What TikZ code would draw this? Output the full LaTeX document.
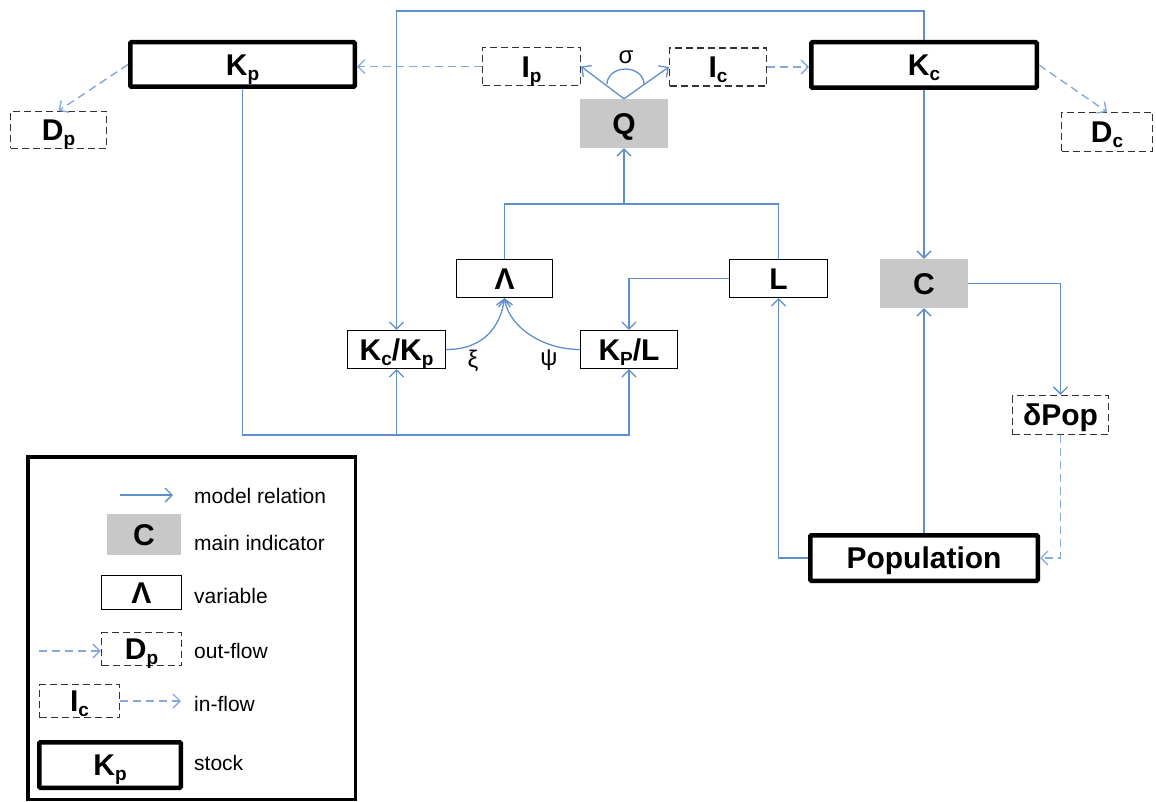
\documentclass[tikz,border=0pt]{standalone}
\usepackage{fontspec}
\setmainfont{Liberation Sans}
\usetikzlibrary{arrows.meta}
\definecolor{relblue}{RGB}{95,142,205}
\definecolor{flowblue}{RGB}{135,168,218}
\definecolor{indgray}{RGB}{200,200,200}
\definecolor{dashgray}{RGB}{50,50,50}
\newcommand\lab{\fontsize{30}{34}\selectfont\bfseries}
\newcommand\sbs[1]{\raisebox{-5pt}[0pt][0pt]{\fontsize{19}{19}\selectfont #1}}
\begin{document}
\begin{tikzpicture}[x=1pt,y=-1pt,
  base/.style={inner sep=0pt, align=center, font=\lab, text height=21.5pt, text depth=0pt},
  stockbox/.style={base, draw=black, line width=4.5pt, rounded corners=1pt},
  varbox/.style={base, draw=black, line width=1.3pt},
  flowbox/.style={base, draw=dashgray, line width=1.3pt, dash pattern=on 7pt off 4pt},
  indbox/.style={base, fill=indgray},
  relline/.style={draw=relblue, line width=1.3pt},
  rel/.style={relline, -{Straight Barb[length=7pt,width=14pt]}},
  flow/.style={draw=flowblue, line width=1.4pt, dash pattern=on 8pt off 5pt, -{Straight Barb[length=7pt,width=14pt]}},
  greek/.style={inner sep=0pt, font=\fontsize{24}{26}\selectfont},
  legtext/.style={anchor=west, inner sep=0pt, font=\fontsize{21}{24}\selectfont, text height=15pt, text depth=0pt},
]
\useasboundingbox (0,0) rectangle (1156,802);

% main nodes
\node[stockbox, minimum width=224.5pt, minimum height=44.5pt] (Kp) at (242.5,64.5) {K\sbs{p}};
\node[flowbox, minimum width=96pt, minimum height=37pt] (Dp) at (58.5,130) {D\sbs{p}};
\node[flowbox, minimum width=98pt, minimum height=38pt] (Ip) at (531.5,66.5) {I\sbs{p}};
\node[flowbox, minimum width=97pt, minimum height=38pt] (Ic) at (718,67) {I\sbs{c}};
\node[indbox, minimum width=88pt, minimum height=49pt] (Q) at (624,123.5) {Q};
\node[stockbox, minimum width=225.5pt, minimum height=45.5pt] (Kc) at (924,65) {K\sbs{c}};
\node[flowbox, minimum width=91pt, minimum height=39pt] (Dc) at (1107,132) {D\sbs{c}};
\node[indbox, minimum width=88pt, minimum height=49pt] (C) at (924,283.5) {C};
\node[flowbox, minimum width=96pt, minimum height=39pt] (dPop) at (1060.5,415) {δPop};
\node[stockbox, minimum width=227.5pt, minimum height=45.5pt] (Pop) at (924,558) {Population};
\node[varbox, minimum width=96pt, minimum height=38pt] (Lam) at (504.5,278.5) {Λ};
\node[varbox, minimum width=98pt, minimum height=38pt] (L) at (778.5,278.5) {L};
\node[varbox, minimum width=98pt, minimum height=38pt] (KcKp) at (396.5,349.5) {K\sbs{c}/K\sbs{p}};
\node[varbox, minimum width=97pt, minimum height=38pt] (KpL) at (629,349.5) {K\sbs{P}/L};

\node[greek] (sigma) at (626,57) {σ};
\node[greek] (xi) at (473,361) {ξ};
\node[greek] (psi) at (549,360) {ψ};

% junction coordinates
\coordinate (qj) at (624,204);
\coordinate (bj) at (396.5,435);

% connectors
\draw[rel] (Kc.north) -- ++(0,-29) -| (KcKp.north);
\draw[flow] (Ip.west) -- (Ip.west -| Kp.east);
\draw[flow] (Ic.east) -- (Ic.east -| Kc.west);
\draw[flow] (Kp.west) -- (Dp.north);
\draw[flow] (Kc.east) -- (Dc.north);
\draw[rel] (Q.north) -- (Ip.east);
\draw[rel] (Q.north) -- (Ic.west);
\draw[relline] (607,84) arc[start angle=180, end angle=360, x radius=18.5, y radius=15];
\draw[relline] (Lam.north) |- (qj) -| (L.north);
\draw[rel] (qj) -- (Q.south);
\draw[rel] (L.west) -| (KpL.north);
\draw[rel] (Kp.south) |- (bj) -| (KpL.south);
\draw[rel] (bj) -- (KcKp.south);
\draw[rel] (KcKp.east) .. controls +(38,0) and +(-4,28) .. (Lam.south);
\draw[rel] (KpL.west) .. controls +(-38,0) and +(4,28) .. (Lam.south);
\draw[rel] (Kc.south) -- (C.north);
\draw[rel] (C.east) -| (dPop.north);
\draw[flow] (dPop.south) |- (Pop.east);
\draw[rel] (Pop.north) -- (C.south);
\draw[rel] (Pop.west) -| (L.south);

% legend
\draw[line width=3.5pt] (27.75,456.75) rectangle (355.25,799.5);
\coordinate (la1) at (120,495);
\coordinate (la2) at (173,495);
\draw[rel] (la1) -- (la2);
\node[legtext] (t1) at (194,495.5) {model relation};
\node[indbox, minimum width=74pt, minimum height=41pt] (lC) at (144,534.5) {C};
\node[legtext] (t2) at (194,542.5) {main indicator};
\node[varbox, minimum width=80pt, minimum height=34pt] (lLam) at (141.5,592.5) {Λ};
\node[legtext] (t3) at (194,595.5) {variable};
\node[flowbox, minimum width=80pt, minimum height=33pt] (lDp) at (141.5,649) {D\sbs{p}};
\coordinate (lo1) at (39,651);
\draw[flow] (lo1) -- (lo1 -| lDp.west);
\node[legtext] (t4) at (194,650.5) {out-flow};
\node[flowbox, minimum width=80pt, minimum height=33pt] (lIc) at (79.5,701) {I\sbs{c}};
\coordinate (li2) at (181,701);
\draw[flow] (lIc.east) -- (li2);
\node[legtext] (t5) at (194,703.5) {in-flow};
\node[stockbox, minimum width=141.5pt, minimum height=45.5pt] (lKp) at (110,765) {K\sbs{p}};
\node[legtext] (t6) at (194,762.5) {stock};
\end{tikzpicture}
\end{document}
